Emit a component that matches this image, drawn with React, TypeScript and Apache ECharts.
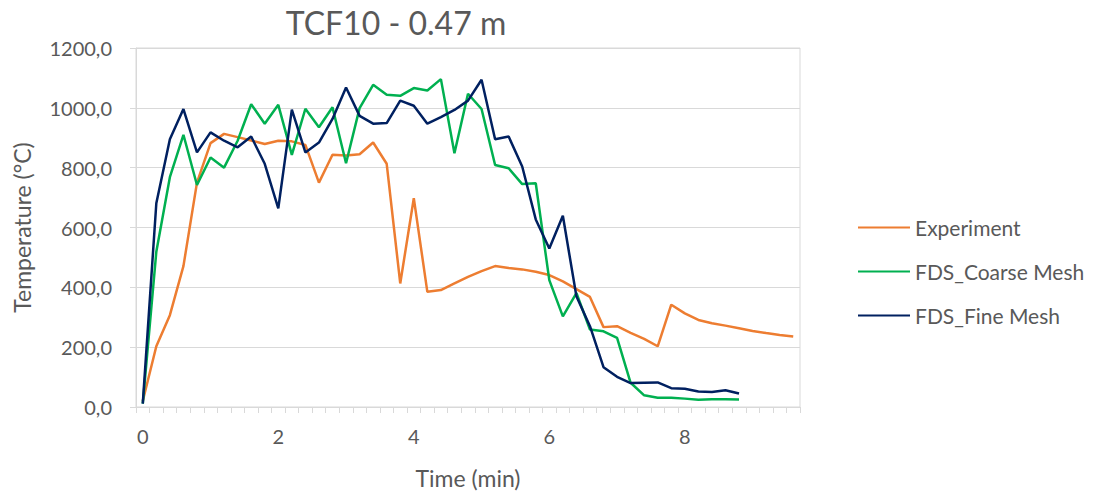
import React, { useEffect, useRef } from "react";
import * as echarts from "echarts";

const times = [
  "0", "0.2", "0.4", "0.6", "0.8", "1", "1.2", "1.4", "1.6", "1.8",
  "2", "2.2", "2.4", "2.6", "2.8", "3", "3.2", "3.4", "3.6", "3.8",
  "4", "4.2", "4.4", "4.6", "4.8", "5", "5.2", "5.4", "5.6", "5.8",
  "6", "6.2", "6.4", "6.6", "6.8", "7", "7.2", "7.4", "7.6", "7.8",
  "8", "8.2", "8.4", "8.6", "8.8", "9", "9.2", "9.4", "9.6",
];

const experiment = [
  20, 203, 307, 471, 750, 882, 913, 902, 891, 879,
  890, 888, 876, 750, 843, 841, 845, 884, 813, 413,
  698, 385, 391, 413, 435, 454, 471, 465, 460, 452,
  441, 420, 394, 368, 267, 270, 248, 228, 203, 342,
  313, 291, 280, 272, 263, 254, 247, 241, 236,
];

const coarseMesh = [
  11, 519, 768, 910, 742, 834, 800, 890, 1012, 947,
  1010, 843, 997, 935, 1002, 815, 999, 1077, 1044, 1040,
  1066, 1058, 1096, 848, 1047, 996, 809, 798, 745, 748,
  424, 303, 381, 259, 253, 231, 81, 39, 31, 31,
  28, 24, 26, 26, 25,
];

const fineMesh = [
  11, 681, 895, 996, 851, 918, 890, 868, 904, 813,
  664, 994, 851, 884, 963, 1068, 973, 947, 949, 1024,
  1007, 947, 969, 993, 1024, 1094, 895, 904, 804, 627,
  530, 639, 370, 270, 133, 101, 80, 81, 82, 63,
  61, 52, 50, 56, 45,
];

const yTicks = [0, 200, 400, 600, 800, 1000, 1200];

const FONT = "Lato, 'Open Sans', sans-serif";
const TXT = "#595959";
const GRID = "#d9d9d9";

export default function App() {
  const ref = useRef<HTMLDivElement>(null);

  useEffect(() => {
    if (!ref.current) return;
    const chart = echarts.init(ref.current, null, { renderer: "svg" });
    chart.setOption({
      animation: false,
      backgroundColor: "#ffffff",
      textStyle: { fontFamily: FONT },
      title: {
        text: "TCF10 - 0.47 m",
        left: 391,
        top: 1,
        textAlign: "center",
        textStyle: { fontFamily: FONT, fontSize: 32, fontWeight: "normal", color: TXT },
      },
      grid: {
        left: 136,
        right: 298,
        top: 48,
        bottom: 88,
        show: true,
        borderColor: GRID,
        borderWidth: 1,
      },
      legend: {
        orient: "vertical",
        left: 853,
        top: 212,
        itemWidth: 52,
        itemHeight: 14,
        itemGap: 23,
        icon: "path://M0,6 L52,6 L52,8 L0,8 Z",
        textStyle: { fontFamily: FONT, fontSize: 21, color: TXT, padding: [0, 0, 0, 0] },
        data: ["Experiment", "FDS_Coarse Mesh", "FDS_Fine Mesh"],
      },
      xAxis: {
        type: "category",
        data: times,
        boundaryGap: true,
        name: "Time (min)",
        nameLocation: "middle",
        nameGap: 59,
        nameTextStyle: { fontFamily: FONT, fontSize: 23, color: TXT },
        axisLine: { show: true, lineStyle: { color: GRID, width: 1 } },
        axisTick: { show: true, interval: 0, length: 6, lineStyle: { color: GRID } },
        axisLabel: {
          interval: 9,
          fontFamily: FONT,
          fontSize: 20,
          color: TXT,
          margin: 19,
          formatter: (v: string) => String(Number(v)),
        },
        splitLine: { show: false },
      },
      yAxis: {
        type: "value",
        min: yTicks[0],
        max: yTicks[yTicks.length - 1],
        interval: 200,
        name: "Temperature (°C)",
        nameLocation: "middle",
        nameGap: 103,
        nameRotate: 90,
        nameTextStyle: { fontFamily: FONT, fontSize: 23, color: TXT },
        axisLine: { show: true, lineStyle: { color: GRID, width: 1 } },
        axisTick: { show: true, length: 6, lineStyle: { color: GRID } },
        axisLabel: {
          fontFamily: FONT,
          fontSize: 20,
          color: TXT,
          margin: 24,
          formatter: (v: number) => v.toFixed(1).replace(".", ","),
        },
        splitLine: { show: true, lineStyle: { color: GRID, width: 1 } },
      },
      series: [
        {
          name: "Experiment",
          type: "line",
          data: experiment,
          symbol: "none",
          lineStyle: { color: "#ED7D31", width: 2.5 },
          itemStyle: { color: "#ED7D31" },
        },
        {
          name: "FDS_Coarse Mesh",
          type: "line",
          data: coarseMesh,
          symbol: "none",
          lineStyle: { color: "#00B050", width: 2.5 },
          itemStyle: { color: "#00B050" },
        },
        {
          name: "FDS_Fine Mesh",
          type: "line",
          data: fineMesh,
          symbol: "none",
          lineStyle: { color: "#002060", width: 2.5 },
          itemStyle: { color: "#002060" },
        },
      ],
    });
    return () => chart.dispose();
  }, []);

  return <div ref={ref} style={{ width: 1098, height: 495, position: "absolute", left: 0, top: 0 }} />;
}
